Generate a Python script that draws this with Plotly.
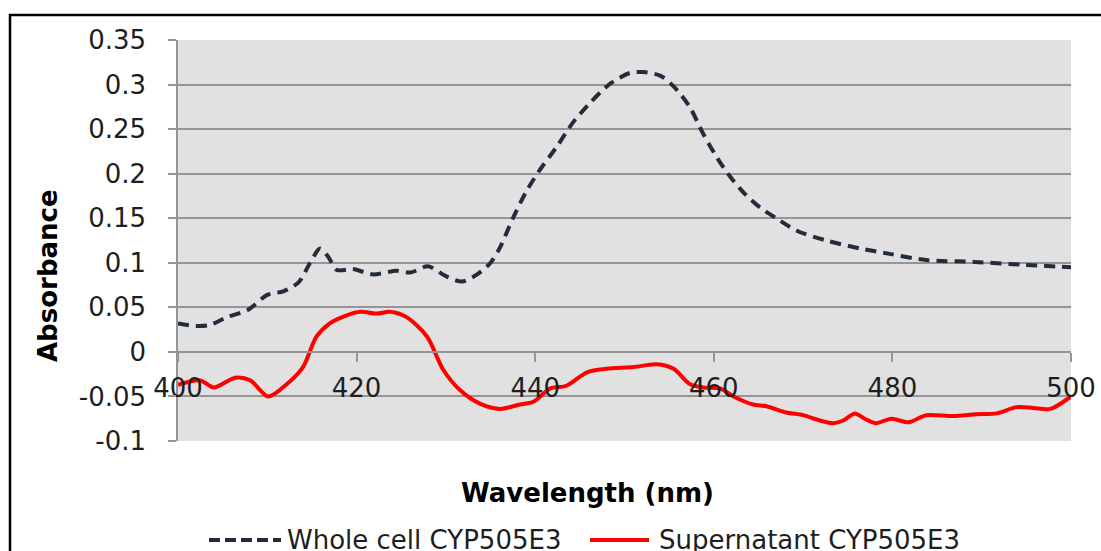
import plotly.graph_objects as go

# ---- data ----
whole_nm = [400, 402, 403.5, 405.5, 407.8, 410, 411.8, 413.5, 414.8, 415.9, 416.8, 417.8,
            419.6, 421.8, 424.5, 426, 428, 430, 431.8, 433.5, 435, 436.1, 437.5, 439,
            440.5, 442.4, 444.2, 446.1, 448.4, 450.6, 452.1, 454, 455.5, 457.3, 458.8,
            460.3, 461.8, 463.5, 465.2, 467, 469.3, 472.6, 476.4, 479.7, 483.8, 489.1,
            494.3, 500]
whole_abs = [0.032, 0.029, 0.030, 0.039, 0.047, 0.064, 0.068, 0.078, 0.100, 0.116, 0.107, 0.092,
             0.093, 0.087, 0.091, 0.089, 0.096, 0.085, 0.079, 0.087, 0.100, 0.118, 0.150, 0.180,
             0.204, 0.230, 0.257, 0.279, 0.301, 0.313, 0.314, 0.310, 0.298, 0.275, 0.245,
             0.219, 0.197, 0.177, 0.162, 0.150, 0.136, 0.125, 0.116, 0.110, 0.103, 0.101,
             0.098, 0.095]

super_nm = [400, 402.5, 404, 406.4, 408.1, 410.1, 412.2, 414, 415.5, 417, 418.9, 420.4,
            422.3, 423.7, 425.6, 427.9, 429.7, 431.6, 433.8, 436.1, 438.3, 439.8, 441.7,
            443.5, 445.8, 448, 451, 453.6, 455.5, 457.3, 458.8, 460.7, 462.2, 464.4, 465.9,
            468.1, 470, 471.9, 473.4, 474.5, 475.8, 476.9, 478.1, 479.9, 481.8, 483.8,
            486.8, 489.4, 491.7, 493.9, 495.8, 497.7, 500]
super_abs = [-0.037, -0.032, -0.040, -0.029, -0.032, -0.050, -0.036, -0.017, 0.017, 0.032, 0.041, 0.045,
             0.043, 0.045, 0.039, 0.017, -0.020, -0.043, -0.058, -0.064, -0.059, -0.056, -0.041,
             -0.038, -0.023, -0.019, -0.017, -0.014, -0.019, -0.036, -0.040, -0.041, -0.050, -0.059, -0.061,
             -0.068, -0.071, -0.077, -0.080, -0.077, -0.069, -0.075, -0.080, -0.075, -0.079, -0.071,
             -0.072, -0.070, -0.069, -0.062, -0.063, -0.064, -0.050]

series_names = ["Whole cell CYP505E3", "Supernatant CYP505E3"]
x_ticks = [400, 420, 440, 460, 480, 500]
y_ticks = [-0.1, -0.05, 0, 0.05, 0.1, 0.15, 0.2, 0.25, 0.3, 0.35]
y_tick_text = ["-0.1", "-0.05", "0", "0.05", "0.1", "0.15", "0.2", "0.25", "0.3", "0.35"]

# ---- layout geometry (pixels) ----
W, H = 1101, 551
L, R, T, B = 178, 1071, 40, 441
FONT = "DejaVu Sans"
TXT = "#1e1e1e"
DARK = "#222d3b"
RED = "#ff0000"
GRID = "#959595"


def px(x):
    return (x - L) / (R - L)


def py(y):
    return (B - y) / (B - T)


fig = go.Figure()
fig.add_trace(go.Scatter(x=whole_nm, y=whole_abs, mode="lines", name=series_names[0],
                         line=dict(color=DARK, width=4, dash="11px,7px", shape="spline",
                                   smoothing=0.8)))
fig.add_trace(go.Scatter(x=super_nm, y=super_abs, mode="lines", name=series_names[1],
                         line=dict(color=RED, width=4, shape="spline", smoothing=0.8)))

ymin, ymax = -0.1, 0.35
fig.update_layout(
    width=W, height=H,
    margin=dict(l=L, r=W - R, t=T, b=H - B, pad=0, autoexpand=False),
    paper_bgcolor="white",
    plot_bgcolor="#e1e1e1",
    showlegend=False,
    font=dict(family=FONT, size=26, color=TXT),
    xaxis=dict(range=[400, 500], tickvals=x_ticks, ticktext=[str(v) for v in x_ticks],
               showgrid=False, zeroline=False, showline=True, linecolor=GRID, linewidth=1.5,
               ticks="outside", ticklen=9, tickwidth=1.5, tickcolor=GRID,
               anchor="free", position=(0 - ymin) / (ymax - ymin),
               automargin=False, ticklabelstandoff=4,
               tickfont=dict(family=FONT, size=26, color=TXT)),
    yaxis=dict(range=[ymin, ymax], tickvals=y_ticks, ticktext=y_tick_text,
               showgrid=True, gridcolor=GRID, gridwidth=1.5, zeroline=False,
               showline=True, linecolor=GRID, linewidth=1.5,
               ticks="outside", ticklen=8, tickwidth=1.5, tickcolor=GRID,
               ticklabelstandoff=17, automargin=False,
               tickfont=dict(family=FONT, size=26, color=TXT)),
)

# outer chart border
fig.add_shape(type="rect", xref="paper", yref="paper",
              x0=px(10), x1=px(1130), y0=py(600), y1=py(15),
              line=dict(color="black", width=2.5), fillcolor="rgba(0,0,0,0)", layer="above")

# axis titles
fig.add_annotation(text="<b>Absorbance</b>", xref="paper", yref="paper",
                   x=px(48), y=py(276), textangle=-90, showarrow=False,
                   xanchor="center", yanchor="middle",
                   font=dict(family=FONT, size=26, color="black"))
fig.add_annotation(text="<b>Wavelength (nm)</b>", xref="paper", yref="paper",
                   x=px(587), y=py(493), showarrow=False,
                   xanchor="center", yanchor="middle",
                   font=dict(family=FONT, size=26, color="black"))

# legend (drawn manually)
LEG_Y = 540
fig.add_shape(type="line", xref="paper", yref="paper",
              x0=px(209), x1=px(281), y0=py(LEG_Y), y1=py(LEG_Y),
              line=dict(color=DARK, width=4, dash="11px,5px"))
fig.add_annotation(text=series_names[0], xref="paper", yref="paper",
                   x=px(285), y=py(LEG_Y), showarrow=False, xanchor="left", yanchor="middle",
                   font=dict(family=FONT, size=26, color=TXT))
fig.add_shape(type="line", xref="paper", yref="paper",
              x0=px(590), x1=px(649), y0=py(LEG_Y), y1=py(LEG_Y),
              line=dict(color=RED, width=4))
fig.add_annotation(text=series_names[1], xref="paper", yref="paper",
                   x=px(657), y=py(LEG_Y), showarrow=False, xanchor="left", yanchor="middle",
                   font=dict(family=FONT, size=26, color=TXT))

fig.write_html("out.html")
